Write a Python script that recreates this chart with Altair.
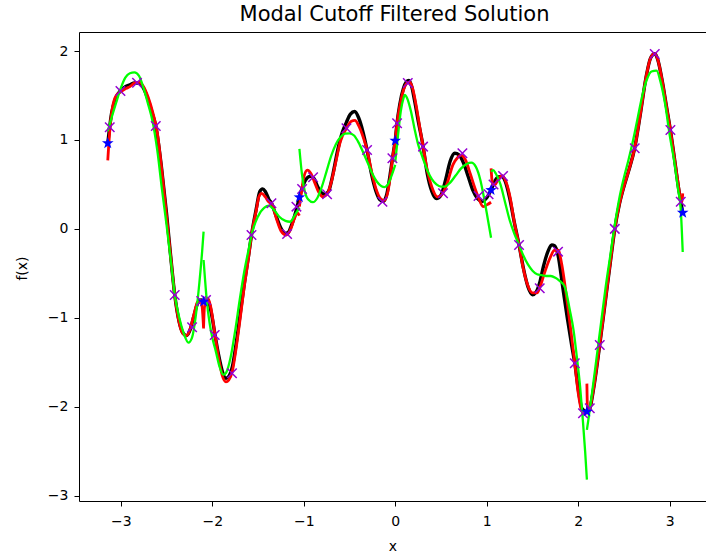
import altair as alt
import pandas as pd

# Element boundaries of the piecewise solution on [-pi, pi]
EDGES = [-3.1416, -2.0944, -1.0472, 0.0, 1.0472, 2.0944, 3.1416]

# Exact function f(x), sampled per element
black_x = [
    [-3.1416, -3.10, -3.05, -3.00, -2.95, -2.90, -2.85, -2.80, -2.75, -2.70, -2.65, -2.617,
     -2.55, -2.50, -2.45, -2.41, -2.36, -2.32, -2.28, -2.24, -2.20, -2.16, -2.12, -2.0944],
    [-2.0944, -2.06, -2.03, -2.00, -1.97, -1.93, -1.89, -1.85, -1.82, -1.78, -1.74, -1.70,
     -1.65, -1.60, -1.571, -1.52, -1.48, -1.45, -1.42, -1.38, -1.353, -1.30, -1.25, -1.20,
     -1.17, -1.13, -1.08, -1.0472],
    [-1.0472, -1.02, -0.98, -0.93, -0.89, -0.85, -0.81, -0.77, -0.73, -0.68, -0.63, -0.58,
     -0.533, -0.49, -0.443, -0.40, -0.35, -0.308, -0.26, -0.21, -0.17, -0.13, -0.09, -0.05,
     -0.03, 0.0],
    [0.0, 0.02, 0.05, 0.09, 0.12, 0.15, 0.18, 0.21, 0.25, 0.304, 0.35, 0.40, 0.45, 0.50,
     0.55, 0.60, 0.65, 0.70, 0.75, 0.80, 0.85, 0.90, 0.95, 1.00, 1.0472],
    [1.0472, 1.08, 1.12, 1.16, 1.20, 1.25, 1.30, 1.353, 1.40, 1.45, 1.50, 1.54, 1.58, 1.62,
     1.67, 1.71, 1.74, 1.78, 1.83, 1.88, 1.93, 1.962, 2.00, 2.04, 2.0944],
    [2.0944, 2.126, 2.17, 2.235, 2.30, 2.35, 2.399, 2.45, 2.50, 2.55, 2.617, 2.68, 2.74,
     2.79, 2.836, 2.87, 2.92, 2.96, 3.007, 3.05, 3.09, 3.12, 3.1416],
]
black_y = [
    [0.96, 1.30, 1.48, 1.56, 1.60, 1.62, 1.64, 1.64, 1.58, 1.45, 1.28, 1.157,
     0.65, 0.18, -0.35, -0.74, -1.05, -1.17, -1.20, -1.13, -0.98, -0.84, -0.80, -0.82],
    [-0.82, -0.80, -0.85, -1.00, -1.19, -1.42, -1.60, -1.68, -1.66, -1.55, -1.30, -1.00,
     -0.62, -0.28, -0.07, 0.22, 0.42, 0.45, 0.42, 0.33, 0.29, 0.14, 0.01, -0.05,
     -0.04, 0.05, 0.22, 0.355],
    [0.355, 0.45, 0.55, 0.59, 0.57, 0.48, 0.41, 0.39, 0.42, 0.62, 0.88, 1.08,
     1.20, 1.29, 1.32, 1.25, 1.08, 0.887, 0.62, 0.42, 0.33, 0.31, 0.40, 0.65,
     0.794, 0.99],
    [0.99, 1.19, 1.40, 1.58, 1.65, 1.67, 1.60, 1.45, 1.22, 0.93, 0.62, 0.42, 0.34, 0.38,
     0.55, 0.76, 0.85, 0.83, 0.73, 0.58, 0.43, 0.34, 0.31, 0.35, 0.437],
    [0.437, 0.52, 0.58, 0.59, 0.54, 0.35, 0.08, -0.18, -0.44, -0.65, -0.74, -0.71, -0.60,
     -0.42, -0.25, -0.18, -0.19, -0.30, -0.65, -1.00, -1.32, -1.51, -1.80, -2.02, -2.06],
    [-2.06, -2.02, -1.78, -1.30, -0.78, -0.38, 0.0, 0.28, 0.48, 0.65, 0.91, 1.30, 1.70,
     1.92, 1.97, 1.90, 1.65, 1.40, 1.11, 0.80, 0.50, 0.31, 0.18],
]

# Unfiltered modal approximation, per element
red_x = [
    [-3.1416, -3.12, -3.10, -3.05, -3.00, -2.94, -2.90, -2.85, -2.80, -2.75, -2.70, -2.65,
     -2.60, -2.55, -2.50, -2.45, -2.41, -2.36, -2.32, -2.28, -2.24, -2.20, -2.16, -2.13,
     -2.11, -2.0944],
    [-2.0944, -2.085, -2.05, -2.02, -1.97, -1.93, -1.89, -1.85, -1.82, -1.78, -1.74, -1.70,
     -1.65, -1.60, -1.571, -1.52, -1.49, -1.46, -1.42, -1.38, -1.353, -1.30, -1.25, -1.19,
     -1.15, -1.10, -1.07, -1.0472],
    [-1.0472, -1.02, -1.00, -0.96, -0.92, -0.88, -0.84, -0.79, -0.745, -0.70, -0.65, -0.60,
     -0.533, -0.48, -0.44, -0.40, -0.35, -0.308, -0.26, -0.21, -0.16, -0.12, -0.08, -0.05,
     -0.03, 0.0],
    [0.0, 0.02, 0.05, 0.09, 0.13, 0.16, 0.19, 0.23, 0.27, 0.304, 0.35, 0.40, 0.46, 0.52,
     0.57, 0.63, 0.68, 0.72, 0.77, 0.82, 0.87, 0.91, 0.96, 1.00, 1.0472],
    [1.0472, 1.065, 1.09, 1.13, 1.17, 1.21, 1.26, 1.30, 1.353, 1.40, 1.45, 1.50, 1.55,
     1.58, 1.63, 1.69, 1.74, 1.78, 1.82, 1.87, 1.92, 1.962, 2.00, 2.04, 2.07, 2.0944],
    [2.0944, 2.10, 2.11, 2.126, 2.17, 2.235, 2.30, 2.35, 2.399, 2.45, 2.50, 2.55, 2.617,
     2.68, 2.74, 2.79, 2.836, 2.87, 2.92, 2.96, 3.007, 3.05, 3.10, 3.12, 3.135, 3.1416],
]
red_y = [
    [0.77, 1.10, 1.30, 1.50, 1.54, 1.58, 1.60, 1.64, 1.65, 1.60, 1.48, 1.31,
     1.08, 0.65, 0.15, -0.35, -0.74, -1.06, -1.18, -1.20, -1.12, -0.96, -0.82, -0.80,
     -0.88, -1.12],
    [-1.10, -0.88, -0.78, -0.86, -1.19, -1.45, -1.65, -1.72, -1.70, -1.60, -1.35, -1.05,
     -0.65, -0.30, -0.07, 0.20, 0.36, 0.40, 0.36, 0.30, 0.29, 0.12, -0.02, -0.07,
     -0.02, 0.12, 0.18, 0.15],
    [0.25, 0.45, 0.58, 0.66, 0.62, 0.52, 0.42, 0.36, 0.39, 0.52, 0.75, 0.98,
     1.13, 1.21, 1.22, 1.16, 1.03, 0.887, 0.65, 0.45, 0.34, 0.32, 0.42, 0.62,
     0.794, 0.98],
    [1.00, 1.19, 1.38, 1.56, 1.64, 1.65, 1.58, 1.38, 1.13, 0.93, 0.66, 0.47, 0.36, 0.40,
     0.52, 0.72, 0.80, 0.83, 0.77, 0.62, 0.46, 0.35, 0.25, 0.27, 0.30],
    [0.68, 0.50, 0.50, 0.57, 0.60, 0.53, 0.33, 0.08, -0.18, -0.45, -0.64, -0.72, -0.72,
     -0.66, -0.50, -0.33, -0.24, -0.24, -0.40, -0.75, -1.15, -1.51, -1.85, -2.05, -2.08,
     -2.06],
    [-1.74, -2.00, -2.07, -2.02, -1.78, -1.30, -0.78, -0.38, 0.0, 0.28, 0.48, 0.65, 0.91,
     1.30, 1.70, 1.92, 1.97, 1.90, 1.65, 1.40, 1.11, 0.80, 0.45, 0.31, 0.30, 0.40],
]

# Modal cutoff filtered solution, per element
green_x = [
    [-3.1416, -3.10, -3.05, -3.00, -2.95, -2.90, -2.85, -2.80, -2.75, -2.70, -2.65, -2.60,
     -2.55, -2.50, -2.45, -2.41, -2.36, -2.31, -2.26, -2.22, -2.18, -2.14, -2.11, -2.0944],
    [-2.0944, -2.08, -2.06, -2.03, -2.00, -1.96, -1.92, -1.88, -1.85, -1.80, -1.75, -1.70,
     -1.65, -1.60, -1.571, -1.50, -1.43, -1.38, -1.33, -1.27, -1.20, -1.15, -1.10, -1.0472],
    [-1.0472, -1.02, -0.99, -0.95, -0.90, -0.85, -0.80, -0.75, -0.70, -0.65, -0.60, -0.55,
     -0.50, -0.45, -0.40, -0.35, -0.30, -0.25, -0.20, -0.15, -0.115, -0.08, -0.04, 0.0],
    [0.0, 0.03, 0.06, 0.09, 0.104, 0.13, 0.17, 0.21, 0.25, 0.30, 0.35, 0.40, 0.45, 0.50,
     0.54, 0.60, 0.66, 0.72, 0.78, 0.833, 0.88, 0.93, 0.97, 1.01, 1.0472],
    [1.0472, 1.07, 1.10, 1.15, 1.20, 1.25, 1.30, 1.353, 1.40, 1.45, 1.50, 1.55, 1.60,
     1.65, 1.70, 1.75, 1.79, 1.852, 1.907, 1.95, 1.98, 2.02, 2.05, 2.075, 2.0944],
    [2.0944, 2.11, 2.15, 2.20, 2.25, 2.30, 2.35, 2.40, 2.45, 2.50, 2.55, 2.60, 2.65, 2.70,
     2.75, 2.80, 2.855, 2.90, 2.95, 3.00, 3.05, 3.09, 3.12, 3.1416],
]
green_y = [
    [1.10, 1.25, 1.42, 1.58, 1.70, 1.75, 1.76, 1.72, 1.58, 1.40, 1.20, 0.88,
     0.45, 0.05, -0.38, -0.74, -1.00, -1.18, -1.28, -1.22, -0.98, -0.60, -0.25, -0.03],
    [-0.35, -0.55, -0.80, -1.05, -1.22, -1.38, -1.55, -1.64, -1.62, -1.45, -1.15, -0.80,
     -0.48, -0.22, -0.07, 0.14, 0.24, 0.26, 0.22, 0.14, 0.09, 0.08, 0.15, 0.24],
    [0.90, 0.62, 0.43, 0.33, 0.30, 0.35, 0.48, 0.65, 0.82, 0.95, 1.03, 1.07,
     1.075, 1.05, 0.97, 0.86, 0.74, 0.62, 0.53, 0.48, 0.47, 0.50, 0.60, 0.72],
    [0.75, 1.05, 1.32, 1.47, 1.506, 1.47, 1.33, 1.13, 0.95, 0.80, 0.66, 0.56, 0.50, 0.475,
     0.475, 0.52, 0.60, 0.68, 0.73, 0.744, 0.70, 0.55, 0.35, 0.12, -0.10],
    [0.643, 0.66, 0.62, 0.50, 0.30, 0.10, -0.05, -0.18, -0.30, -0.40, -0.47, -0.51, -0.52,
     -0.53, -0.53, -0.55, -0.58, -0.65, -0.91, -1.15, -1.40, -1.77, -2.15, -2.50, -2.82],
    [-2.26, -2.15, -1.85, -1.45, -1.05, -0.65, -0.30, 0.05, 0.35, 0.58, 0.78, 1.00, 1.25,
     1.50, 1.68, 1.77, 1.78, 1.65, 1.40, 1.05, 0.75, 0.45, 0.22, -0.26],
]

# Interior quadrature nodes (seven per element)
node_x = [-3.12, -3.003, -2.822, -2.617, -2.41, -2.22, -2.12,
          -2.068, -1.973, -1.784, -1.571, -1.353, -1.182, -1.08,
          -1.018, -0.898, -0.745, -0.533, -0.308, -0.14, -0.031,
          0.02, 0.137, 0.304, 0.522, 0.734, 0.91, 1.02,
          1.074, 1.178, 1.353, 1.579, 1.779, 1.962, 2.052,
          2.126, 2.235, 2.399, 2.617, 2.836, 3.007, 3.12]
node_y = [1.142, 1.55, 1.644, 1.157, -0.743, -1.107, -0.81,
          -0.80, -1.193, -1.624, -0.069, 0.288, -0.057, 0.25,
          0.449, 0.58, 0.389, 1.131, 0.887, 0.306, 0.794,
          1.187, 1.64, 0.925, 0.40, 0.85, 0.37, 0.39,
          0.50, 0.595, -0.181, -0.668, -0.256, -1.511, -2.073,
          -2.017, -1.305, 0.0, 0.906, 1.967, 1.112, 0.306]

# Values at the element interfaces
edge_y = [0.963, -0.818, 0.355, 0.992, 0.437, -2.055, 0.182]


def segments(xs, ys, name):
    rows = []
    for k, (sx, sy) in enumerate(zip(xs, ys)):
        for xv, yv in zip(sx, sy):
            rows.append({"x": xv, "y": yv, "series": name, "elem": k})
    return pd.DataFrame(rows)


df_black = segments(black_x, black_y, "exact")
df_red = segments(red_x, red_y, "modal")
df_green = segments(green_x, green_y, "filtered")
df_nodes = pd.DataFrame({"x": node_x, "y": node_y})
df_edges = pd.DataFrame({"x": EDGES, "y": edge_y})

X_DOMAIN = [-3.456, 3.396]
Y_DOMAIN = [-3.06, 2.214]

x_enc = alt.X(
    "x:Q",
    scale=alt.Scale(domain=X_DOMAIN, nice=False, zero=False),
    axis=alt.Axis(
        values=[-3, -2, -1, 0, 1, 2, 3], format="d", title="x",
        titleY=49, titleBaseline="alphabetic",
    ),
)
y_enc = alt.Y(
    "y:Q",
    scale=alt.Scale(domain=Y_DOMAIN, nice=False, zero=False),
    axis=alt.Axis(
        values=[-3, -2, -1, 0, 1, 2], format="d", title="f(x)",
        titleX=-53, titleY=236, titleBaseline="alphabetic", titleAngle=-90,
    ),
)


def curve(df, color, width):
    return alt.Chart(df).mark_line(
        color=color, strokeWidth=width, interpolate="monotone", clip=True
    ).encode(x=x_enc, y=y_enc, detail="elem:N")


X_SHAPE = "M-1,-1L1,1M-1,1L1,-1"
STAR_SHAPE = ("M0,-1L0.235,-0.324L0.951,-0.309L0.38,0.124L0.588,0.809L0,0.4"
              "L-0.588,0.809L-0.38,0.124L-0.951,-0.309L-0.235,-0.324Z")

nodes = alt.Chart(df_nodes).mark_point(
    shape=X_SHAPE, size=90, filled=False, color="#9400D3", strokeWidth=1.5, opacity=1
).encode(x=x_enc, y=y_enc)

stars = alt.Chart(df_edges).mark_point(
    shape=STAR_SHAPE, size=150, filled=True, color="#0000FF", opacity=1
).encode(x=x_enc, y=y_enc)

chart = alt.layer(
    curve(df_black, "#000000", 3.4),
    curve(df_red, "#FF0000", 2.8),
    curve(df_green, "#00FF00", 2.3),
    nodes,
    stars,
).properties(
    width=627,
    height=469,
    title=alt.TitleParams(
        "Modal Cutoff Filtered Solution", fontSize=21, font="DejaVu Sans",
        fontWeight="normal", anchor="middle", baseline="alphabetic", offset=0, dy=10,
        dx=2, color="#000000",
    ),
    autosize=alt.AutoSizeParams(type="none"),
    padding={"left": 79, "top": 32, "right": 0, "bottom": 54},
    background="white",
).configure_view(
    stroke="#000000", strokeWidth=1
).configure_axis(
    domain=False, grid=False, ticks=True, tickSize=5, tickColor="#000000", tickWidth=1,
    labelFont="DejaVu Sans", labelFontSize=14, labelColor="#000000",
    titleFont="DejaVu Sans", titleFontSize=14, titleFontWeight="normal", titleColor="#000000",
).configure_axisX(
    labelPadding=8
).configure_axisY(
    labelPadding=6
)

chart.save("out.html", embed_options={"renderer": "svg", "actions": False})
